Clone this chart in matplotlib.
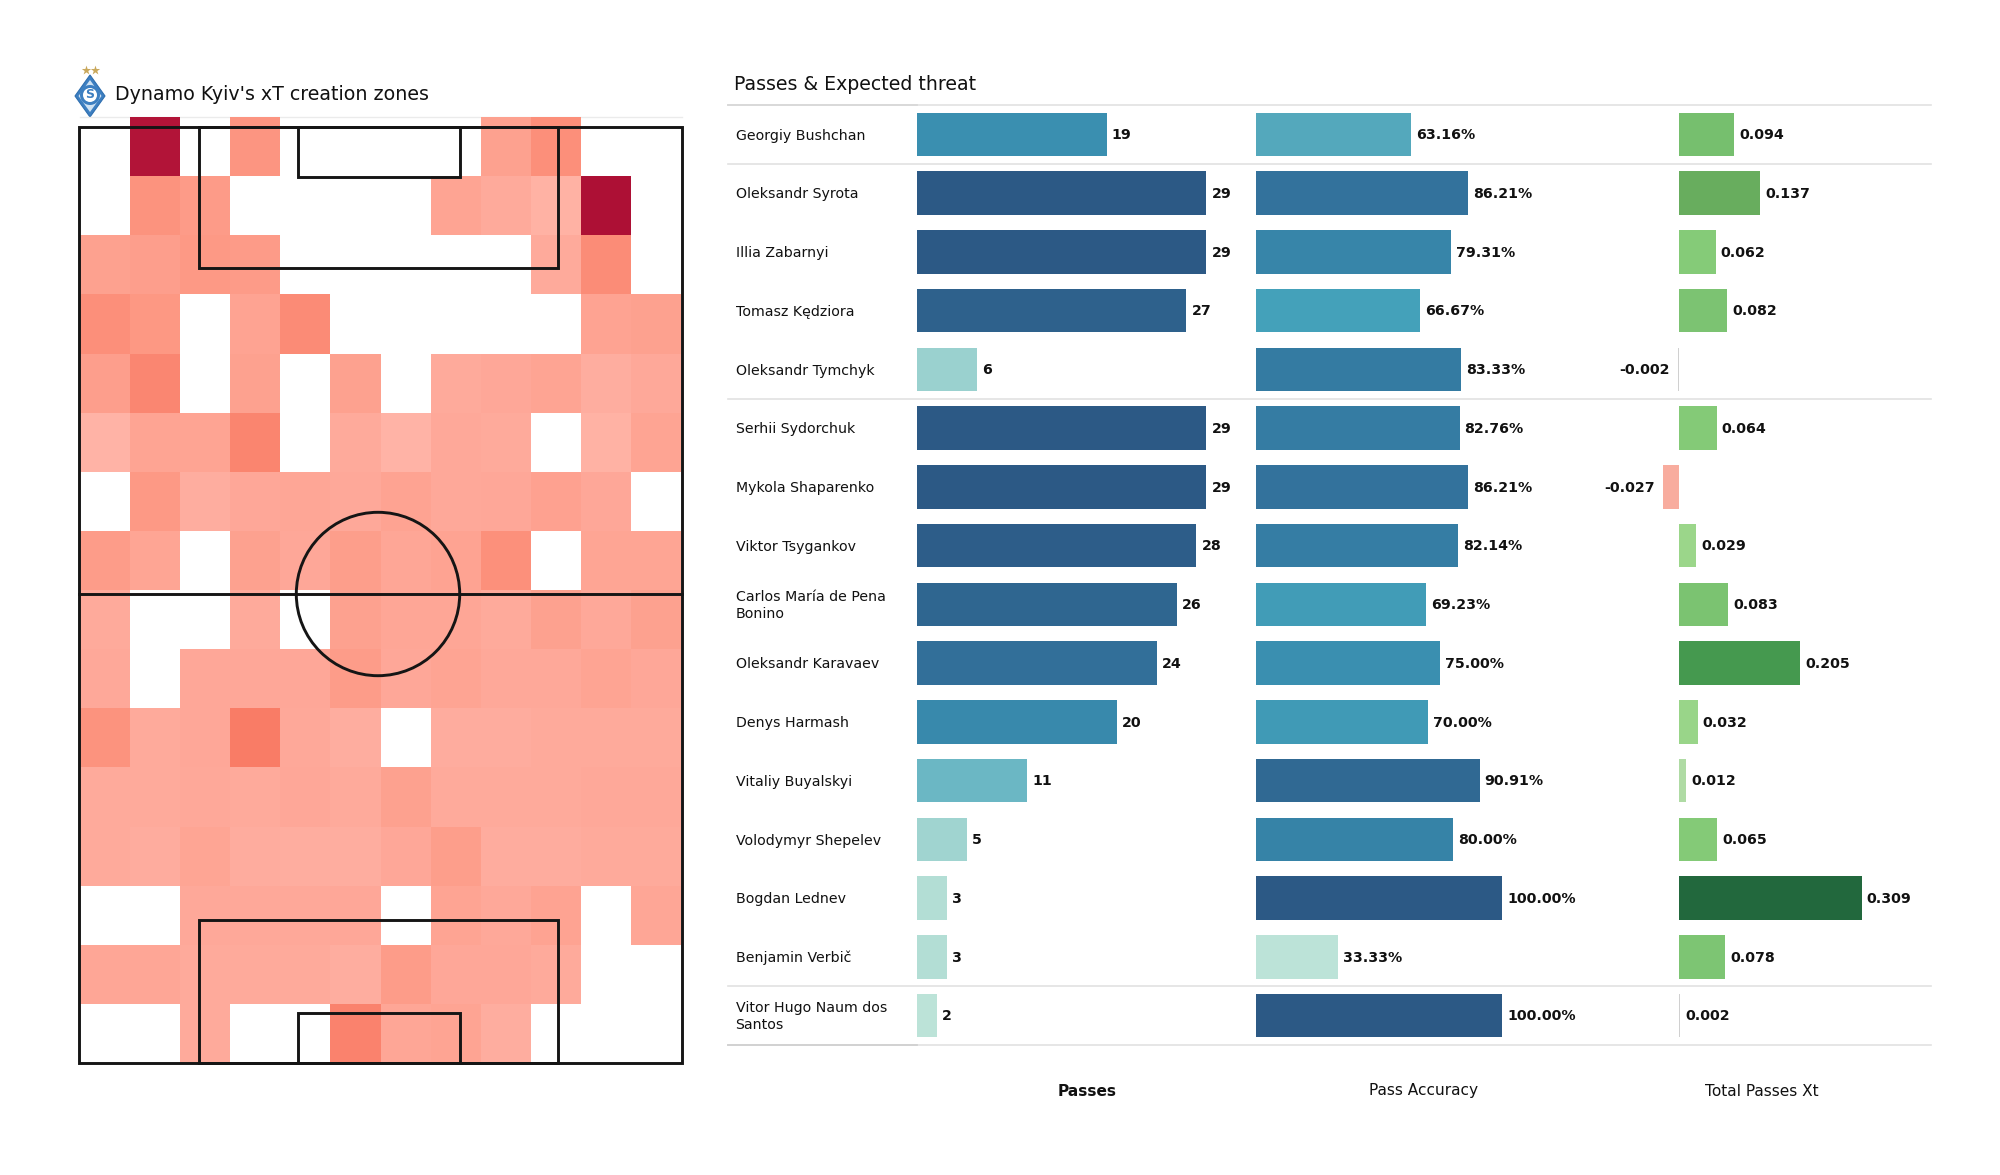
import numpy as np
import matplotlib
matplotlib.use("Agg")
import matplotlib.pyplot as plt
from matplotlib.colors import LinearSegmentedColormap, Normalize
from matplotlib.patches import Rectangle, Circle, Polygon

W, H = 2000, 1175
n = np.nan

# ---------- data ----------
heat = [
    [n, 1.0, n, .30, n, n, n, n, .20, .35, n, n],
    [n, .32, .25, n, n, n, n, .17, .12, .08, 1.03, n],
    [.20, .22, .27, .25, n, n, n, n, n, .12, .37, n],
    [.35, .28, n, .18, .38, n, n, n, n, n, .18, .20],
    [.22, .42, n, .20, n, .20, n, .12, .14, .17, .10, .13],
    [.07, .17, .17, .43, n, .12, .07, .13, .12, n, .08, .17],
    [n, .27, .10, .14, .15, .13, .18, .13, .14, .19, .14, n],
    [.24, .16, n, .20, .14, .23, .15, .18, .34, n, .16, .16],
    [.12, n, n, .12, n, .20, .15, .15, .12, .20, .13, .20],
    [.13, n, .14, .14, .14, .24, .14, .17, .13, .13, .17, .14],
    [.32, .12, .14, .50, .13, .10, n, .11, .11, .12, .12, .12],
    [.12, .12, .13, .12, .14, .12, .20, .12, .12, .12, .13, .13],
    [.12, .11, .16, .11, .10, .10, .14, .23, .11, .11, .12, .12],
    [n, n, .13, .13, .13, .14, n, .17, .13, .18, n, .15],
    [.15, .15, .12, .12, .12, .10, .24, .14, .14, .12, n, n],
    [n, n, .12, n, n, .45, .15, .17, .10, n, n, n],
]
players = ["Georgiy Bushchan", "Oleksandr Syrota", "Illia Zabarnyi", "Tomasz Kędziora",
           "Oleksandr Tymchyk", "Serhii Sydorchuk", "Mykola Shaparenko", "Viktor Tsygankov",
           "Carlos María de Pena\nBonino", "Oleksandr Karavaev", "Denys Harmash",
           "Vitaliy Buyalskyi", "Volodymyr Shepelev", "Bogdan Lednev", "Benjamin Verbič",
           "Vitor Hugo Naum dos\nSantos"]
passes = [19, 29, 29, 27, 6, 29, 29, 28, 26, 24, 20, 11, 5, 3, 3, 2]
accuracy = [63.16, 86.21, 79.31, 66.67, 83.33, 82.76, 86.21, 82.14, 69.23, 75.00, 70.00,
            90.91, 80.00, 100.00, 33.33, 100.00]
xt = [0.094, 0.137, 0.062, 0.082, -0.002, 0.064, -0.027, 0.029, 0.083, 0.205, 0.032,
      0.012, 0.065, 0.309, 0.078, 0.002]
column_titles = ["Passes", "Pass Accuracy", "Total Passes Xt"]
rule_after_rows = [0, 4, 14, 15]

# ---------- colour maps ----------
heat_cmap = LinearSegmentedColormap.from_list("heat", [
    (0.0, "#ffb3a6"), (0.06, "#fea899"), (0.2, "#fd9a86"), (0.45, "#f97c66"), (0.5, "#f7735e"),
    (0.75, "#d8384e"), (1.0, "#ad1035")])
blue_cmap = LinearSegmentedColormap.from_list("blues", [
    (0.0, "#bce3d8"), (0.11, "#a0d4d0"), (0.148, "#99d1cf"), (0.33, "#6cb7c4"),
    (0.45, "#53a8bc"), (0.5, "#44a1ba"), (0.63, "#3a8fb0"), (0.73, "#357ea4"),
    (0.81, "#32709a"), (0.89, "#2f6690"), (1.0, "#2c5985")])
green_cmap = LinearSegmentedColormap.from_list("greens", [
    (0.0, "#c8e6c0"), (0.04, "#acd9a0"), (0.094, "#9bd68a"), (0.2, "#85cb78"),
    (0.3, "#76bf6e"), (0.44, "#68ad5e"), (0.66, "#45994f"), (1.0, "#22683d")])
NEG = "#f8ac9e"
RULE = "#e2e2e2"
INK = "#111111"

fig = plt.figure(figsize=(W / 100, H / 100), dpi=100, facecolor="white")
plt.rcParams["font.family"] = "DejaVu Sans"


def px_axes(x0, y0, x1, y1, **kw):
    ax = fig.add_axes([x0 / W, 1 - y1 / H, (x1 - x0) / W, (y1 - y0) / H], **kw)
    ax.axis("off")
    return ax


# ---------- overlay (pixel) axes: titles, rules, logo ----------
bg = px_axes(0, 0, W, H)
bg.set_xlim(0, W)
bg.set_ylim(H, 0)

ROW_TOP, ROW_H = 105.0, 58.75
bg.plot([80, 682], [117, 117], color="#ebebeb", lw=1.0)
bg.text(115, 94.5, "Dynamo Kyiv's xT creation zones", fontsize=13.7, color=INK, va="center", ha="left")
bg.text(733.5, 84, "Passes & Expected threat", fontsize=13.6, color=INK, va="center", ha="left")
bg.plot([728, 1931], [ROW_TOP, ROW_TOP], color=RULE, lw=1.2)
for r in rule_after_rows:
    y = ROW_TOP + (r + 1) * ROW_H
    bg.plot([728, 1931], [y, y], color=RULE, lw=1.2)
bg.plot([728, 917], [ROW_TOP, ROW_TOP], color="#d8d8d8", lw=1.3)
bg.plot([728, 917], [ROW_TOP + 16 * ROW_H] * 2, color="#d0d0d0", lw=1.3)

for i, name in enumerate(players):
    bg.text(735.5, ROW_TOP + (i + .5) * ROW_H + 1.2, name, fontsize=10.2, color=INK, va="center", ha="left",
            linespacing=1.3)
for cx, t, w in zip([1087, 1424, 1762], column_titles, ["bold", "normal", "normal"]):
    bg.text(cx, 1091, t, fontsize=11.1, color=INK, fontweight=w, va="center", ha="center")

# logo
bg.add_patch(Polygon([(90, 75), (105, 96), (90, 117), (75, 96)], closed=True, fc="#3d7fc1", ec="#2f6fb0", lw=.8))
bg.add_patch(Polygon([(90, 80), (101.5, 96), (90, 112), (78.5, 96)], closed=True, fc="#cfe2f3", ec="none"))
bg.add_patch(Circle((90, 95), 10, fc="#3d7fc1", ec="none"))
bg.add_patch(Circle((90, 95), 7, fc="white", ec="none"))
bg.text(90, 95, "S", fontsize=9, color="#3d7fc1", fontweight="bold", ha="center", va="center")
bg.scatter([86, 94.5], [70, 70], marker="*", s=50, color="#c9a85c", linewidths=0)

# ---------- heat map & pitch ----------
pitch = px_axes(70, 110, 695, 1072)
pitch.set_xlim(70, 695)
pitch.set_ylim(1072, 110)
arr = np.ma.masked_invalid(np.array(heat, dtype=float))
pitch.pcolormesh(np.linspace(80, 681, 13), np.linspace(117, 1063, 17), arr,
                 cmap=heat_cmap, norm=Normalize(0.07, 1.03), edgecolors="none", shading="flat")
LC, LW = "#151515", 2.1
pitch.add_patch(Rectangle((78.5, 126.5), 603.5, 936.5, fc="none", ec=LC, lw=LW))
pitch.plot([78.5, 682], [594, 594], color=LC, lw=LW)
pitch.add_patch(Circle((378, 594), 81.7, fc="none", ec=LC, lw=LW))
pitch.add_patch(Rectangle((198.5, 126.5), 359.5, 141.5, fc="none", ec=LC, lw=LW))
pitch.add_patch(Rectangle((297.5, 126.5), 162, 50.5, fc="none", ec=LC, lw=LW))
pitch.add_patch(Rectangle((198.5, 920), 359.5, 143, fc="none", ec=LC, lw=LW))
pitch.add_patch(Rectangle((297.5, 1013), 162, 50, fc="none", ec=LC, lw=LW))


# ---------- bar panels ----------
def panel(x0, x1, xmin, xmax, values, colors, labels):
    ax = px_axes(x0, ROW_TOP, x1, ROW_TOP + 16 * ROW_H)
    ax.set_xlim(xmin, xmax)
    ax.set_ylim(15.5, -0.5)
    bars = ax.barh(range(16), values, height=0.744, color=colors, edgecolor="none")
    for b in bars:
        b.set_clip_on(False)
    for i, (v, lab) in enumerate(zip(values, labels)):
        off, ha = (5, "left") if v >= 0 else (-8, "right")
        ax.annotate(lab, (v, i), xytext=(off * .72, -0.5), textcoords="offset points",
                    fontsize=10.2, fontweight="bold", color=INK, va="center", ha=ha,
                    annotation_clip=False)
    return ax


pn = Normalize(min(passes), max(passes))
panel(917.4, 1206.4, 0, 29, passes, [blue_cmap(pn(v)) for v in passes], [str(v) for v in passes])
an = Normalize(min(accuracy), max(accuracy))
panel(1255.8, 1502.0, 0, 100, accuracy, [blue_cmap(an(v)) for v in accuracy], [f"{v:.2f}%" for v in accuracy])
gn = Normalize(0, max(xt))
xt_colors = [NEG if v < -0.01 else ("#d0d0d0" if abs(v) < 0.005 else green_cmap(gn(v))) for v in xt]
panel(1678.8, 1861.8, 0, 0.309, xt, xt_colors, [f"{v:.3f}" for v in xt])

fig.savefig("out.png", dpi=100, facecolor="white")
